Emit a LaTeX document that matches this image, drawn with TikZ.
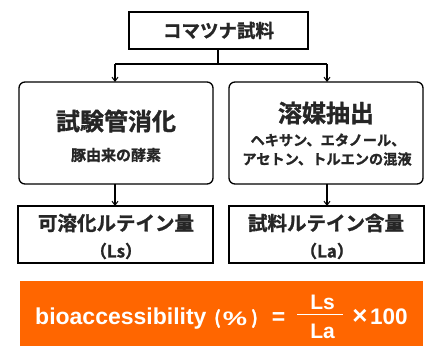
\documentclass[tikz,border=0pt]{standalone}
\usepackage{fontspec}
\usepackage{graphicx}
\setmainfont{Liberation Sans}[BoldFont={Liberation Sans Bold}]
\newfontfamily\jp{Noto Sans CJK JP}[BoldFont={* Bold}, BoldFeatures={FakeBold=1.2}]
\usetikzlibrary{arrows.meta}
\definecolor{orangebg}{HTML}{FF6600}
\tikzset{
  box/.style={draw=black, line width=1.3pt, fill=white},
  rbox/.style={box, rounded corners=6pt},
  conn/.style={line width=1.2pt, -{Straight Barb[length=4pt,width=6pt,line width=1pt]}},
  plain/.style={line width=1.2pt},
  jpt/.style={font=\jp\bfseries, text=black!85},
  wt/.style={inner sep=0pt, text=white},
}
\begin{document}
\begin{tikzpicture}[x=1pt,y=-1pt]
\useasboundingbox (0,0) rectangle (428,347);
% boxes
\draw[box] (129,12) rectangle (308,49);
\node[jpt] (top) at (218.5,30.5) {\fontsize{18.5}{20}\selectfont コマツナ試料};
\coordinate (topb) at (218,49);
\coordinate (split) at (218,64);
\coordinate (sl) at (115,64);
\coordinate (sr) at (327,64);

\draw[rbox] (19,82) rectangle (213,184);
\draw[rbox] (229,82) rectangle (423,184);
\coordinate (lt) at (115,82);
\coordinate (rt) at (327,82);
\node[jpt] (ltitle) at (116,121) {\fontsize{24}{26}\selectfont 試験管消化};
\node[jpt] (lsub) at (116,155) {\fontsize{15}{17}\selectfont 豚由来の酵素};
\node[jpt] (rtitle) at (326,113) {\fontsize{24}{26}\selectfont 溶媒抽出};
\node[jpt] (rsub1) at (328,140) {\fontsize{14.2}{16}\selectfont ヘキサン、エタノール、};
\node[jpt] (rsub2) at (327,159) {\fontsize{14.2}{16}\selectfont アセトン、トルエンの混液};
\coordinate (lb) at (115,184);
\coordinate (rb) at (327,184);

\draw[box] (18,206) rectangle (213,263);
\draw[box] (229,206) rectangle (424,263);
\coordinate (l2t) at (115,206);
\coordinate (r2t) at (327,206);
\node[jpt] (l2a) at (116,223) {\fontsize{19.5}{21}\selectfont 可溶化ルテイン量};
\node[jpt] (l2b) at (116,251) {\fontsize{17}{19}\selectfont （Ls）};
\node[jpt] (r2a) at (326,223) {\fontsize{19.5}{21}\selectfont 試料ルテイン含量};
\node[jpt] (r2b) at (327,251) {\fontsize{17}{19}\selectfont （La）};

% connectors
\draw[plain] (topb) -- (split);
\draw[plain] (sl) -- (sr);
\draw[conn] (sl) -- (lt);
\draw[conn] (sr) -- (rt);
\draw[conn] (lb) -- (l2t);
\draw[conn] (rb) -- (r2t);

% formula
\fill[orangebg] (20,281) rectangle (423,346);
\node[wt, anchor=base west] (bio) at (35,324) {\bfseries\fontsize{23}{25}\selectfont bioaccessibility};
\node[wt] (lp) at (217.5,318.5) {\jp\bfseries\fontsize{18}{20}\selectfont (};
\node[wt] (pc) at (235,318.5) {\bfseries\fontsize{19.5}{20}\selectfont\scalebox{1.4}[1]{\%}};
\node[wt] (rp) at (254.5,318.5) {\jp\bfseries\fontsize{18}{20}\selectfont )};
\node[wt] (eq) at (278.5,318.5) {\bfseries\fontsize{23}{24}\selectfont =};
\draw[white, line width=1.3pt] (297,314.5) -- (343,314.5);
\node[wt, anchor=base] (num) at (322.5,309) {\bfseries\fontsize{21}{22}\selectfont Ls};
\node[wt, anchor=base] (den) at (322.5,338) {\bfseries\fontsize{21}{22}\selectfont La};
\node[wt] (times) at (360,317) {\bfseries\fontsize{26}{26}\selectfont ×};
\node[wt, anchor=base west] (hund) at (370,324) {\bfseries\fontsize{22.5}{24}\selectfont 100};
\end{tikzpicture}
\end{document}
